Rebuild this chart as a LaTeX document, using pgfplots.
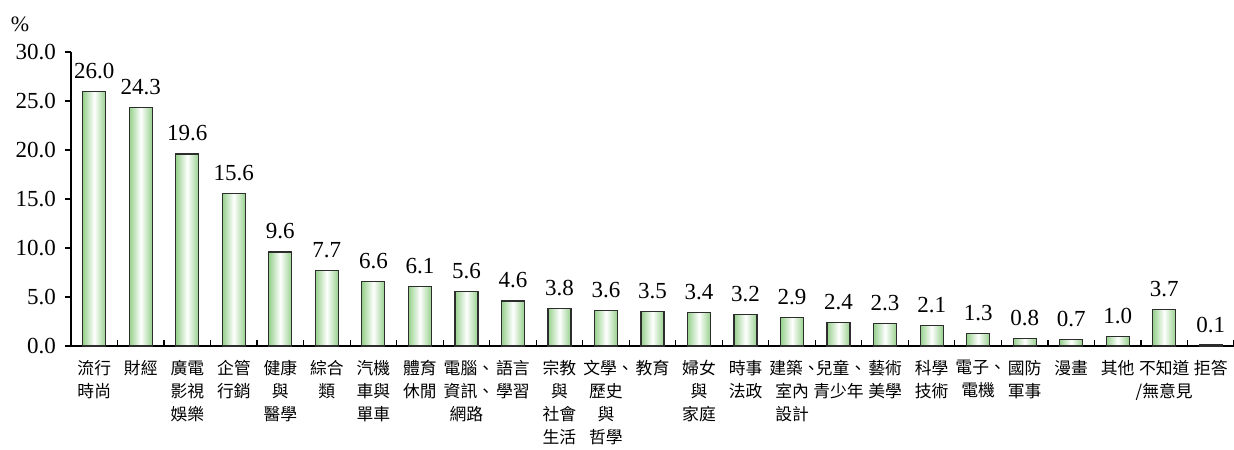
\documentclass[border=0pt]{standalone}
\usepackage{fontspec}
\setmainfont{Liberation Serif}
\newfontfamily\cjk{Noto Sans CJK TC}
\usepackage{pgfplots}
\pgfplotsset{compat=1.18}
\definecolor{bargreen}{RGB}{150,208,140}
\definecolor{baredge}{RGB}{45,45,45}
\newcommand{\dun}{\makebox[0.7em][l]{、}}
\pgfplotsset{
  gbar/.style={ybar, bar width=11.5pt, bar shift=0pt, draw=baredge, line width=0.6pt,
    left color=bargreen, right color=bargreen, middle color=white,
    nodes near coords,
    nodes near coords style={/pgf/number format/fixed, /pgf/number format/fixed zerofill, /pgf/number format/precision=1, /pgf/number format/assume math mode=true},
    every node near coord/.append style={font=\fontsize{11.5}{13}\selectfont, anchor=south, inner sep=0pt, yshift=6pt, text=black}},
}
\begin{document}
\begin{tikzpicture}
\useasboundingbox (-35.5pt,-51.5pt) rectangle (581.5pt,173pt);
\begin{axis}[
  at={(0,0)}, anchor=south west,
  scale only axis,
  width=581.5pt, height=147pt,
  xmin=-0.5, xmax=24.5,
  ymin=0, ymax=30,
  axis x line=bottom, axis y line=left,
  axis line style={-, line width=0.6pt, black},
  ytick={0,5,...,30},
  yticklabel style={/pgf/number format/fixed, /pgf/number format/fixed zerofill, /pgf/number format/precision=1, /pgf/number format/assume math mode=true, font=\fontsize{11.5}{13}\selectfont, xshift=-1pt},
  y tick style={black, line width=0.6pt},
  tick align=outside,
  major tick length=3pt,
  xtick={0,...,24},
  x tick style={draw=none},
  xticklabels={{流行\\時尚},{財經},{廣電\\影視\\娛樂},{企管\\行銷},{健康\\與\\醫學},{綜合\\類},{汽機\\車與\\單車},{體育\\休閒},{電腦\dun\\資訊\dun\\網路},{語言\\學習},{宗教\\與\\社會\\生活},{文學\dun\\歷史\\與\\哲學},{教育},{婦女\\與\\家庭},{時事\\法政},{建築\dun\\室內\\設計},{兒童\dun\\青少年},{藝術\\美學},{科學\\技術},{電子\dun\\電機},{國防\\軍事},{漫畫},{其他},{不知道\\/無意見},{拒答}},
  xticklabel style={font=\cjk\fontsize{8.4}{11.5}\selectfont, align=center, anchor=north, inner sep=0pt, yshift=-4pt},
  extra x ticks={0.5,1.5,...,24.5},
  extra x tick labels={},
  extra x tick style={x tick style={draw=black, line width=0.6pt}, tick align=inside, major tick length=3pt},
  clip=false,
]
\addplot[gbar] coordinates {(0,26.0)};
\addplot[gbar] coordinates {(1,24.3)};
\addplot[gbar] coordinates {(2,19.6)};
\addplot[gbar] coordinates {(3,15.6)};
\addplot[gbar] coordinates {(4,9.6)};
\addplot[gbar] coordinates {(5,7.7)};
\addplot[gbar] coordinates {(6,6.6)};
\addplot[gbar] coordinates {(7,6.1)};
\addplot[gbar] coordinates {(8,5.6)};
\addplot[gbar] coordinates {(9,4.6)};
\addplot[gbar] coordinates {(10,3.8)};
\addplot[gbar] coordinates {(11,3.6)};
\addplot[gbar] coordinates {(12,3.5)};
\addplot[gbar] coordinates {(13,3.4)};
\addplot[gbar] coordinates {(14,3.2)};
\addplot[gbar] coordinates {(15,2.9)};
\addplot[gbar] coordinates {(16,2.4)};
\addplot[gbar] coordinates {(17,2.3)};
\addplot[gbar] coordinates {(18,2.1)};
\addplot[gbar] coordinates {(19,1.3)};
\addplot[gbar] coordinates {(20,0.8)};
\addplot[gbar] coordinates {(21,0.7)};
\addplot[gbar] coordinates {(22,1.0)};
\addplot[gbar] coordinates {(23,3.7)};
\addplot[gbar] coordinates {(24,0.1)};
\node[font=\fontsize{11}{13}\selectfont] at ([xshift=-25.5pt,yshift=14pt]rel axis cs:0,1) {\%};
\end{axis}
\end{tikzpicture}
\end{document}
